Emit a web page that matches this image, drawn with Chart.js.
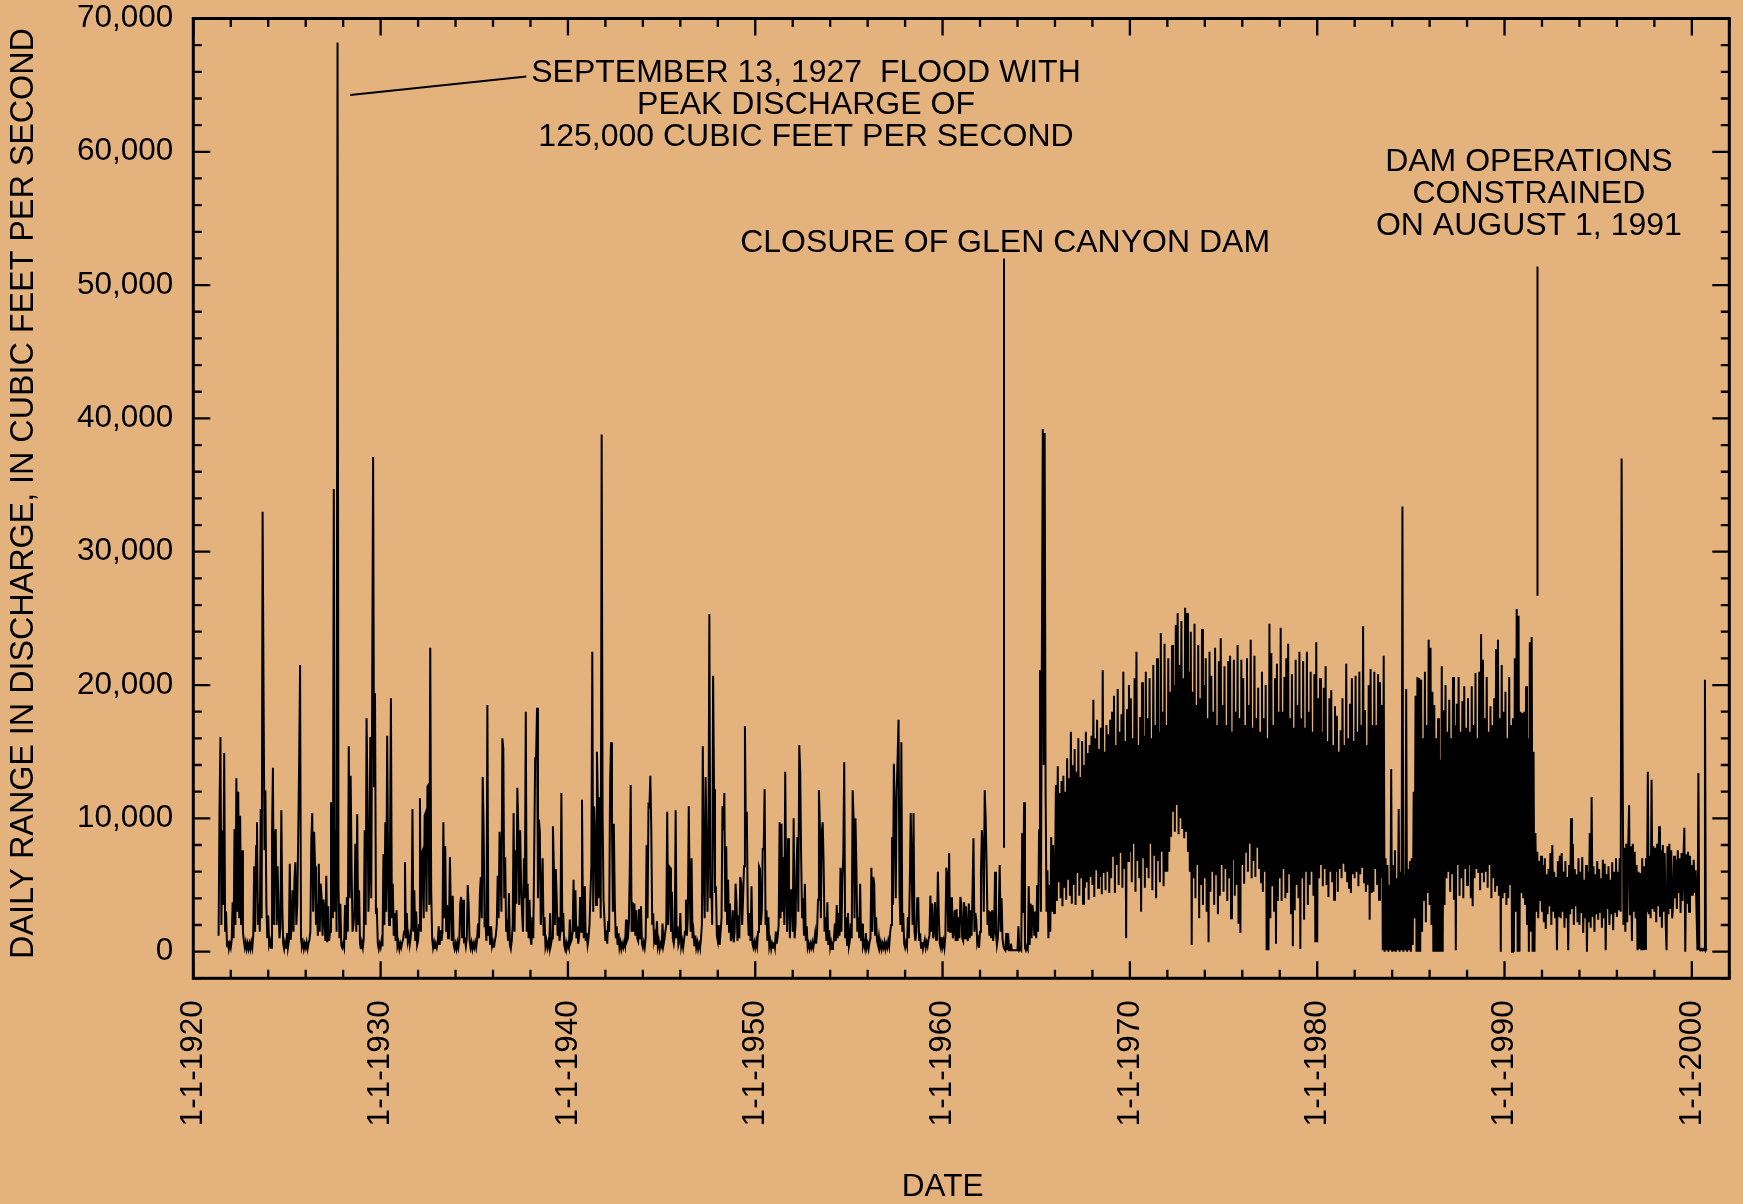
<!DOCTYPE html>
<html>
<head>
<meta charset="utf-8">
<title>Daily range in discharge</title>
<script src="https://cdn.jsdelivr.net/npm/chart.js@4.4.1/dist/chart.umd.min.js"></script>
<style>
  html, body { margin: 0; padding: 0; background: #E4B27D; }
  canvas { display: block; }
</style>
</head>
<body>
<canvas id="chart" width="1743" height="1204"></canvas>
<script>
// Daily range in discharge, thousands of cubic feet per second,
// one value every 0.05 year. Each decade block starts at its own year.
const sampleStep = 0.05;

const range1920s = [ // from 1921.35
  1.2, 10.9, 16.1, 2.0, 9.1, 3.5, 14.9, 1.5, 3.0, 0.4, 0.8, 0.2, 0.6,
  0.3, 0.9, 3.7, 1.0, 9.2, 2.0, 13.0, 3.0, 12.0, 2.5, 10.2, 2.0, 7.6, 1.5, 0.8, 0.3, 0.7, 0.2, 0.6, 0.2,
  0.6, 0.2, 0.7, 0.3, 1.2, 6.4, 1.5, 7.9, 9.7, 2.0, 3.6, 1.5, 10.7, 2.5, 33.0, 19.7, 7.6, 12.1, 3.6, 1.0,
  2.7, 0.5, 0.8, 0.3, 8.5, 13.8, 2.0, 8.5, 9.2, 2.0, 6.4, 3.2, 1.0, 1.8, 10.6, 3.5, 0.6, 0.2, 0.7, 0.3,
  1.4, 0.3, 0.8, 6.6, 0.9, 2.0, 4.6, 1.5, 5.4, 6.7, 2.0, 3.5, 8.6, 14.2, 21.5, 1.0, 0.4, 0.7, 0.2, 0.6,
  0.3, 0.7, 0.2, 0.6, 0.9, 1.5, 8.4, 10.4, 3.0, 9.0, 6.4, 2.0, 3.6, 1.2, 6.6, 1.5, 5.1, 4.0, 1.2, 3.9,
  2.9, 0.8, 5.7, 0.7, 3.4, 0.8, 1.5, 11.2, 7.3, 2.5, 34.7, 3.0, 9.1, 1.5, 68.2, 5.1, 1.0, 3.6, 0.5, 0.3,
  0.6, 0.3, 3.5, 0.9, 4.1, 1.5, 15.4, 4.0, 13.2, 6.4, 1.5, 2.0, 2.9, 8.1, 1.5, 10.3, 2.0, 4.6, 0.6, 0.2,
  0.7, 0.3, 1.0, 9.1, 2.0, 17.5, 11.6, 3.0, 6.0, 16.1, 4.0, 19.9, 37.1, 12.4, 19.4, 3.0, 3.1, 0.6, 0.2, 0.6
];

const range1930s = [
  0.3, 0.8, 0.4, 7.3, 2.0, 9.7, 3.0, 16.2, 6.4, 2.0, 7.4, 19.0, 2.5, 5.1, 1.2, 2.9, 0.8, 3.1, 0.4, 0.7,
  0.2, 0.6, 0.3, 0.7, 0.9, 1.5, 6.7, 1.0, 2.9, 0.8, 1.2, 0.5, 1.0, 2.0, 10.7, 1.5, 4.6, 0.8, 3.0, 0.5,
  0.8, 2.0, 11.5, 1.5, 7.4, 7.6, 2.5, 10.2, 10.4, 3.0, 12.4, 12.5, 3.5, 22.8, 4.6, 1.0, 0.3, 0.7, 0.2, 0.6,
  0.3, 0.7, 1.9, 0.5, 1.6, 0.8, 1.5, 9.7, 2.5, 7.9, 1.5, 3.5, 1.0, 2.0, 7.1, 2.9, 0.8, 4.2, 0.5, 0.2,
  0.6, 0.2, 0.7, 0.3, 0.8, 3.6, 4.1, 1.0, 3.9, 0.8, 0.9, 0.4, 1.0, 5.0, 3.5, 0.8, 0.3, 0.7, 0.2, 0.6,
  0.3, 0.7, 0.3, 0.9, 2.1, 1.0, 4.4, 5.6, 2.5, 13.1, 9.1, 2.0, 2.1, 0.8, 18.5, 1.2, 1.9, 0.5, 1.9, 0.4,
  0.7, 0.3, 0.8, 1.2, 2.0, 5.7, 2.5, 9.0, 6.6, 3.0, 16.0, 15.2, 4.0, 7.1, 1.5, 2.4, 0.8, 4.4, 0.5, 0.2,
  0.8, 2.0, 10.4, 1.5, 7.6, 3.6, 12.3, 9.1, 3.5, 9.1, 5.1, 2.9, 1.5, 7.0, 4.0, 18.0, 1.5, 5.1, 1.0, 3.9,
  1.0, 0.5, 2.6, 1.0, 7.4, 14.5, 14.6, 18.3, 4.0, 9.9, 9.0, 2.0, 3.9, 7.0, 1.2, 2.6, 0.4, 0.8, 0.3, 0.7,
  0.3, 2.9, 0.6, 1.0, 9.4, 6.2, 2.0, 6.2, 4.1, 1.2, 2.6, 0.8, 1.5, 11.9, 1.5, 2.9, 0.5, 0.2, 0.7, 0.3
];

const range1940s = [
  0.6, 0.3, 2.4, 0.7, 0.9, 1.5, 5.4, 1.5, 4.6, 1.0, 1.9, 0.6, 1.2, 4.1, 1.5, 11.4, 2.7, 1.0, 4.9, 0.8,
  1.4, 0.5, 1.0, 2.0, 4.2, 6.4, 22.5, 3.0, 10.9, 9.0, 3.5, 15.0, 10.9, 4.0, 11.6, 2.5, 38.8, 10.4, 3.9, 2.4,
  0.8, 1.6, 0.6, 2.3, 1.5, 12.6, 15.7, 9.7, 3.0, 9.6, 3.9, 1.0, 1.9, 0.5, 1.4, 0.3, 0.7, 0.2, 0.6, 0.3,
  0.7, 0.4, 2.4, 0.8, 1.0, 2.0, 6.0, 12.5, 1.5, 3.7, 1.5, 3.6, 1.2, 3.1, 1.0, 0.8, 3.2, 1.0, 3.4, 0.6,
  0.3, 0.7, 0.3, 1.0, 8.0, 2.5, 11.0, 10.9, 13.2, 9.1, 2.0, 2.9, 0.8, 1.2, 0.5, 2.3, 0.4, 0.8, 0.2, 0.6,
  0.4, 2.1, 0.5, 0.9, 1.5, 2.0, 10.5, 2.0, 6.4, 6.3, 1.5, 4.5, 1.0, 0.6, 1.2, 10.6, 1.0, 1.9, 0.5, 0.8,
  2.9, 0.4, 0.8, 0.3, 0.9, 1.5, 3.9, 1.2, 2.5, 10.9, 4.6, 1.5, 7.0, 1.0, 1.5, 0.4, 1.2, 0.3, 0.7, 0.2,
  0.6, 0.3, 0.9, 2.0, 15.4, 5.4, 2.5, 13.1, 8.6, 3.0, 7.6, 25.3, 4.0, 5.4, 2.0, 20.7, 12.2, 4.4, 4.9, 1.2,
  0.8, 2.0, 0.5, 1.5, 2.5, 10.9, 9.1, 11.9, 3.0, 7.9, 2.0, 5.4, 1.5, 3.6, 0.8, 1.2, 3.1, 0.7, 1.5, 5.1,
  3.7, 0.8, 2.7, 1.0, 5.6, 5.1, 2.0, 4.0, 6.4, 16.9, 8.5, 10.5, 3.1, 1.2, 2.9, 0.8, 4.9, 0.6, 0.3, 0.7
];

const range1950s = [
  0.3, 0.8, 0.4, 1.5, 6.4, 6.2, 2.0, 3.0, 7.7, 7.7, 12.2, 2.0, 3.1, 0.8, 2.6, 0.4, 0.8, 0.2, 0.6, 0.3,
  0.7, 0.3, 1.5, 0.6, 1.2, 2.0, 9.7, 2.5, 9.6, 3.0, 7.1, 2.0, 13.5, 4.8, 1.5, 8.5, 3.6, 1.0, 4.6, 4.6,
  1.5, 10.0, 1.0, 2.0, 6.2, 8.6, 3.0, 15.5, 13.5, 7.1, 2.5, 4.0, 1.2, 5.1, 0.8, 1.9, 0.3, 0.6, 0.2, 0.6,
  0.3, 0.7, 0.3, 0.8, 1.4, 0.6, 1.5, 3.9, 12.1, 9.5, 2.5, 8.9, 9.7, 6.6, 1.5, 2.6, 0.8, 3.7, 0.5, 1.6,
  0.3, 0.7, 0.2, 0.6, 0.9, 2.1, 0.8, 3.5, 1.0, 2.9, 1.2, 6.3, 1.5, 5.4, 7.2, 14.2, 1.0, 2.6, 0.5, 2.9,
  0.4, 0.8, 2.1, 1.0, 12.1, 10.0, 2.5, 10.0, 6.4, 1.5, 2.6, 1.0, 5.1, 0.8, 2.1, 0.4, 0.7, 0.3, 1.4, 0.3,
  0.6, 0.2, 0.7, 1.0, 6.3, 1.5, 5.6, 5.1, 1.2, 2.6, 0.8, 0.5, 1.1, 0.3, 0.7, 0.2, 0.6, 0.3, 0.7, 0.2,
  0.6, 0.3, 0.8, 0.4, 1.4, 2.0, 8.6, 3.5, 14.1, 10.6, 4.0, 11.9, 14.6, 17.4, 4.4, 2.0, 15.7, 1.5, 2.9, 0.6,
  0.3, 0.7, 0.4, 2.6, 1.0, 5.1, 10.4, 6.2, 2.0, 10.4, 1.5, 0.8, 1.5, 4.0, 4.0, 0.8, 1.4, 0.3, 0.7, 0.2,
  0.6, 0.9, 0.3, 0.7, 0.4, 0.9, 1.2, 4.2, 1.5, 3.6, 1.0, 1.5, 3.7, 0.9, 1.5, 6.0, 2.6, 0.6, 0.3, 1.1
];

const range1960s = [
  0.4, 0.8, 0.3, 1.2, 6.3, 5.6, 1.5, 7.4, 1.5, 4.0, 4.0, 1.0, 1.5, 3.1, 0.8, 3.2, 0.8, 2.6, 1.0, 4.1,
  3.6, 1.0, 0.8, 3.7, 1.0, 3.4, 1.2, 0.8, 3.6, 1.0, 3.1, 1.2, 4.6, 8.5, 1.5, 2.9, 2.4, 0.6, 0.9, 0.3,
  1.5, 6.0, 9.1, 7.6, 3.0, 12.1, 10.0, 6.6, 2.0, 3.1, 1.2, 3.0, 1.0, 3.1, 0.8, 1.5, 6.0, 1.4, 0.5, 1.0,
  3.0, 6.5, 1.5, 4.0, 1.0, 0.4, 0.2, 0.1, 1.4, 0.1, 1.4, 0.1, 0.1, 0.6, 0.1, 0.1, 0.1, 0.1, 0.1, 0.1,
  0.1, 1.9, 0.1, 0.2, 0.1, 8.9, 2.9, 11.2, 0.3, 0.1, 0.4, 0.2, 4.9, 0.5, 3.6, 1.0, 3.5, 2.7, 1.2, 3.0,
  1.0, 5.0, 1.5, 9.1, 21.1, 3.0, 22.0, 39.2, 14.0, 38.9, 12.0, 3.0, 6.1, 1.0, 5.0, 1.5, 8.6, 3.0, 8.0, 2.9,
  4.5, 12.5, 3.8, 13.9, 5.2, 11.9, 4.0, 12.8, 3.4, 13.2, 4.8, 12.0, 3.9, 14.5, 5.4, 13.0, 4.2, 16.5, 3.6, 14.0,
  5.0, 15.2, 3.5, 13.5, 5.9, 16.0, 4.2, 13.1, 5.5, 15.8, 3.6, 14.0, 4.8, 16.5, 5.2, 14.9, 3.9, 15.5, 5.6, 16.2,
  5.0, 18.9, 4.1, 16.0, 6.1, 17.4, 4.8, 15.2, 5.6, 16.8, 4.3, 21.1, 5.9, 15.0, 4.6, 17.0, 6.0, 16.3, 4.4, 17.4,
  5.5, 18.0, 7.2, 19.2, 4.4, 15.5, 6.5, 19.7, 5.0, 16.5, 7.4, 17.8, 4.8, 21.0, 6.2, 15.8, 1.0, 18.2, 6.8, 20.0
];

const range1970s = [
  7.5, 19.0, 5.2, 16.0, 8.1, 20.5, 4.5, 22.5, 6.8, 15.5, 5.5, 17.6, 3.0, 20.2, 7.0, 16.2, 4.8, 21.0, 6.3, 17.5,
  5.5, 20.5, 8.1, 16.0, 4.6, 21.5, 7.2, 17.0, 4.0, 22.0, 6.8, 16.5, 5.2, 23.9, 7.5, 18.0, 4.9, 23.1, 6.0, 17.0,
  6.0, 22.0, 7.5, 19.5, 8.6, 23.0, 10.5, 20.0, 9.0, 24.5, 11.0, 25.4, 8.8, 21.5, 10.0, 24.8, 9.2, 20.5, 8.5, 25.8,
  9.0, 25.4, 7.5, 21.0, 6.0, 24.0, 0.5, 19.5, 5.5, 24.6, 4.0, 18.5, 6.5, 23.0, 2.5, 19.0, 5.0, 24.2, 3.5, 20.0,
  5.5, 22.0, 3.0, 17.5, 0.7, 22.5, 4.5, 20.7, 6.0, 18.0, 3.5, 22.8, 5.8, 17.0, 2.8, 21.8, 4.2, 23.5, 6.5, 18.5,
  4.5, 21.4, 6.2, 17.0, 3.8, 21.8, 5.5, 22.2, 2.5, 16.5, 6.9, 21.9, 4.2, 18.0, 5.0, 23.0, 2.1, 17.5, 1.4, 21.9,
  6.5, 20.5, 5.1, 17.0, 7.5, 22.0, 6.0, 18.5, 8.1, 23.4, 5.5, 16.8, 6.8, 22.2, 5.6, 17.5, 7.8, 19.8, 6.2, 16.5,
  5.2, 21.0, 4.5, 17.5, 6.0, 20.0, 0.1, 16.0, 0.1, 24.6, 2.5, 22.4, 4.9, 17.0, 3.0, 20.5, 0.6, 21.6, 3.8, 18.0,
  5.5, 24.3, 3.8, 18.0, 6.2, 20.6, 4.0, 22.0, 4.4, 23.1, 5.8, 17.5, 2.8, 20.8, 0.4, 16.8, 3.1, 21.9, 5.0, 18.5,
  4.0, 22.5, 0.2, 17.5, 5.5, 21.8, 2.4, 16.8, 6.0, 22.5, 3.5, 18.0, 5.0, 21.0, 6.0, 16.5, 4.2, 20.8, 0.7, 23.2
];

const range1980s = [
  0.7, 19.0, 5.5, 20.5, 6.5, 16.5, 4.9, 19.8, 6.2, 21.4, 5.0, 15.8, 4.1, 19.0, 6.0, 19.6, 5.2, 15.5, 3.9, 18.4,
  6.0, 17.7, 4.5, 15.0, 6.2, 16.6, 5.5, 19.0, 6.6, 15.5, 6.0, 21.6, 5.2, 16.0, 4.8, 18.6, 4.4, 20.5, 5.8, 15.8,
  5.5, 20.7, 6.0, 16.5, 4.9, 21.0, 5.8, 17.0, 6.3, 24.4, 5.2, 18.1, 4.5, 15.5, 5.0, 20.0, 2.4, 21.2, 4.4, 17.0,
  4.5, 21.0, 6.2, 17.0, 5.0, 20.8, 3.9, 20.2, 5.5, 18.5, 0.1, 22.2, 0.0, 7.0, 0.1, 6.5, 0.0, 5.0, 0.1, 13.7,
  0.0, 6.5, 0.1, 7.6, 0.0, 5.5, 0.1, 10.7, 0.0, 6.0, 0.1, 33.4, 0.0, 5.8, 0.1, 19.7, 0.0, 6.2, 0.1, 6.8,
  0.0, 7.0, 0.5, 12.0, 2.5, 19.2, 0.0, 20.6, 0.0, 20.5, 0.0, 20.4, 1.5, 16.0, 3.8, 21.0, 2.2, 17.0, 4.4, 23.4,
  3.5, 22.8, 2.0, 19.5, 0.0, 18.5, 0.0, 16.0, 0.0, 17.5, 0.0, 14.4, 0.0, 21.4, 0.0, 18.1, 3.5, 20.0, 5.5, 16.5,
  6.0, 18.9, 4.5, 16.0, 5.8, 20.6, 3.9, 17.0, 0.1, 18.6, 6.5, 20.6, 4.2, 16.5, 5.5, 18.8, 4.0, 19.9, 6.2, 16.8,
  5.0, 19.0, 6.5, 16.5, 4.0, 19.9, 3.4, 17.0, 5.5, 20.9, 6.2, 16.0, 5.9, 21.0, 4.6, 23.8, 6.0, 21.9, 5.2, 17.5,
  6.0, 20.6, 4.8, 16.5, 6.5, 18.4, 4.0, 17.0, 5.5, 19.0, 4.5, 22.7, 5.0, 23.4, 4.2, 17.5, 0.0, 21.5, 4.0, 18.0
];

const range1990s = [
  4.4, 19.5, 3.5, 16.0, 4.0, 20.6, 5.0, 17.0, 0.0, 17.5, 0.0, 22.0, 3.0, 25.7, 0.0, 25.2, 0.0, 18.0, 4.4, 17.9,
  4.0, 18.0, 3.5, 19.9, 2.0, 16.0, 0.0, 23.2, 1.5, 23.6, 0.0, 15.0, 0.0, 8.9, 3.0, 7.5, 2.5, 6.8, 3.8, 7.2,
  3.0, 6.5, 2.2, 7.0, 1.7, 5.8, 2.8, 6.2, 3.4, 7.4, 2.0, 8.0, 3.0, 6.0, 2.5, 5.6, 0.1, 6.8, 2.6, 7.2,
  2.5, 7.4, 3.0, 6.0, 1.8, 6.8, 2.5, 5.6, 0.1, 6.5, 2.8, 10.0, 3.2, 8.1, 2.0, 6.2, 3.4, 5.8, 2.2, 7.0,
  2.0, 6.0, 2.9, 7.1, 1.4, 5.4, 2.5, 6.5, 0.0, 6.0, 2.2, 8.9, 1.8, 11.6, 2.6, 6.4, 1.5, 5.8, 2.8, 6.8,
  2.4, 6.2, 3.0, 5.5, 1.8, 6.9, 2.5, 6.6, 0.1, 5.8, 3.2, 6.4, 2.0, 5.4, 2.8, 6.7, 1.6, 6.0, 3.0, 7.0,
  2.6, 6.0, 3.1, 7.0, 3.0, 37.0, 16.5, 2.0, 7.8, 1.5, 8.1, 2.2, 7.6, 11.0, 2.8, 7.9, 0.8, 8.1, 3.0, 7.5,
  2.5, 6.5, 0.1, 6.0, 0.2, 5.9, 0.1, 7.0, 0.1, 6.4, 0.2, 7.0, 3.0, 13.5, 2.8, 7.2, 2.5, 12.9, 3.2, 7.9,
  3.0, 7.8, 2.2, 8.1, 3.4, 9.4, 2.6, 7.6, 1.8, 8.0, 3.0, 7.4, 2.4, 0.1, 7.9, 2.8, 8.1, 3.2, 7.6, 2.5,
  3.5, 7.2, 4.0, 6.9, 3.2, 7.6, 4.4, 7.0, 2.9, 7.4, 3.8, 7.1, 9.3, 0.0, 7.3, 3.6, 7.5, 3.0, 7.2, 4.2
];

const range2000 = [
  6.5, 4.2, 6.9, 4.4, 6.1, 3.0, 0.1, 13.4, 0.2, 0.1, 0.2, 0.1, 0.2, 0.1, 20.4, 0.1, 0.2
];

const blockStarts = [1921.35, 1930, 1940, 1950, 1960, 1970, 1980, 1990, 2000];
const blockValues = [range1920s, range1930s, range1940s, range1950s, range1960s,
                     range1970s, range1980s, range1990s, range2000];

// Axis ticks
const decadeTicks = [1920, 1930, 1940, 1950, 1960, 1970, 1980, 1990, 2000];
const dischargeTicks = [0, 10000, 20000, 30000, 40000, 50000, 60000, 70000];

// Callout text
const floodNoteLines = ['SEPTEMBER 13, 1927  FLOOD WITH', 'PEAK DISCHARGE OF', '125,000 CUBIC FEET PER SECOND'];
const closureNoteLines = ['CLOSURE OF GLEN CANYON DAM'];
const damNoteLines = ['DAM OPERATIONS', 'CONSTRAINED', 'ON AUGUST 1, 1991'];

const xTitle = 'DATE';
const yTitle = 'DAILY RANGE IN DISCHARGE, IN CUBIC FEET PER SECOND';

// ---------------------------------------------------------------------------
const BG = '#E4B27D';
const FONT = "'Liberation Sans', Arial, Helvetica, sans-serif";

const points = [];
blockValues.forEach((vals, b) => {
  vals.forEach((v, i) => {
    points.push({ x: +(blockStarts[b] + i * sampleStep).toFixed(2), y: v * 1000 });
  });
});

// Callouts anchored in data units (year, cfs)
const notes = [
  { lines: floodNoteLines, year: 1952.71, value: 65900,
    leader: [[1928.38, 64270], [1937.78, 65650]] },
  { lines: closureNoteLines, year: 1963.34, value: 53160,
    leader: [[1963.28, 52000], [1963.28, 7800]] },
  { lines: damNoteLines, year: 1991.30, value: 59200,
    leader: [[1991.76, 51400], [1991.76, 26700]] }
];

const framePlugin = {
  id: 'frameAndNotes',
  beforeDraw(chart) {
    const ctx = chart.ctx;
    ctx.save();
    ctx.fillStyle = BG;
    ctx.fillRect(0, 0, chart.width, chart.height);
    ctx.restore();
  },
  afterDraw(chart) {
    const { ctx, chartArea: a, scales: { x, y } } = chart;
    ctx.save();
    ctx.strokeStyle = '#000';
    ctx.fillStyle = '#000';
    ctx.lineCap = 'butt';

    // inward tick marks on all four sides
    ctx.lineWidth = 2.3;
    ctx.beginPath();
    for (let yr = 1920; yr <= 2002; yr += 2) {
      const px = x.getPixelForValue(yr);
      const len = decadeTicks.includes(yr) ? 17 : 8.5;
      ctx.moveTo(px, a.bottom); ctx.lineTo(px, a.bottom - len);
      ctx.moveTo(px, a.top); ctx.lineTo(px, a.top + len);
    }
    for (let v = -2000; v <= 70000; v += 2000) {
      const py = y.getPixelForValue(v);
      const len = (v % 10000 === 0) ? 17 : 8.5;
      ctx.moveTo(a.left, py); ctx.lineTo(a.left + len, py);
      ctx.moveTo(a.right, py); ctx.lineTo(a.right - len, py);
    }
    ctx.stroke();

    // frame
    ctx.lineWidth = 3;
    ctx.strokeRect(a.left, a.top, a.right - a.left, a.bottom - a.top);

    // callouts
    ctx.lineWidth = 2;
    notes.forEach(n => {
      ctx.beginPath();
      ctx.moveTo(x.getPixelForValue(n.leader[0][0]), y.getPixelForValue(n.leader[0][1]));
      ctx.lineTo(x.getPixelForValue(n.leader[1][0]), y.getPixelForValue(n.leader[1][1]));
      ctx.stroke();
      ctx.font = `32px ${FONT}`;
      ctx.textAlign = 'center';
      ctx.textBaseline = 'middle';
      const cx = x.getPixelForValue(n.year);
      const cy = y.getPixelForValue(n.value);
      n.lines.forEach((t, i) => ctx.fillText(t, cx, cy + i * 32));
    });

    // axis titles
    ctx.textAlign = 'center';
    ctx.textBaseline = 'middle';
    ctx.font = `31.5px ${FONT}`;
    ctx.fillText(xTitle, x.getPixelForValue(1960), 1187);
    ctx.font = `32.3px ${FONT}`;
    ctx.translate(24.5, 493.5);
    ctx.rotate(-Math.PI / 2);
    ctx.fillText(yTitle, 0, 0);
    ctx.restore();
  }
};

new Chart(document.getElementById('chart'), {
  type: 'line',
  data: {
    datasets: [{
      label: 'Daily range in discharge',
      data: points,
      borderColor: '#000',
      borderWidth: 2,
      pointRadius: 0,
      pointHoverRadius: 0,
      tension: 0,
      fill: false
    }]
  },
  options: {
    responsive: false,
    devicePixelRatio: 1,
    animation: false,
    events: [],
    parsing: false,
    normalized: true,
    layout: { padding: { top: 18.5, right: 13.7, left: 0, bottom: 0 } },
    plugins: { legend: { display: false }, tooltip: { enabled: false } },
    scales: {
      x: {
        type: 'linear',
        min: 1920,
        max: 2002,
        afterBuildTicks: s => { s.ticks = decadeTicks.map(v => ({ value: v })); },
        afterFit: s => { s.height = 225.7; s.paddingLeft = 0; s.paddingRight = 0; },
        grid: { display: false, drawTicks: false },
        border: { display: false },
        ticks: {
          autoSkip: false,
          minRotation: 90,
          maxRotation: 90,
          padding: 22,
          color: '#000',
          font: { family: FONT, size: 31.5 },
          callback: v => '1-1-' + v
        }
      },
      y: {
        type: 'linear',
        min: -2000,
        max: 70000,
        afterBuildTicks: s => { s.ticks = dischargeTicks.map(v => ({ value: v })); },
        afterFit: s => { s.width = 193.3; s.paddingTop = 0; s.paddingBottom = 0; },
        grid: { display: false, drawTicks: false },
        border: { display: false },
        ticks: {
          autoSkip: false,
          padding: 20,
          color: '#000',
          font: { family: FONT, size: 31.5 },
          callback: v => v.toLocaleString('en-US')
        }
      }
    }
  },
  plugins: [framePlugin]
});
</script>
</body>
</html>
